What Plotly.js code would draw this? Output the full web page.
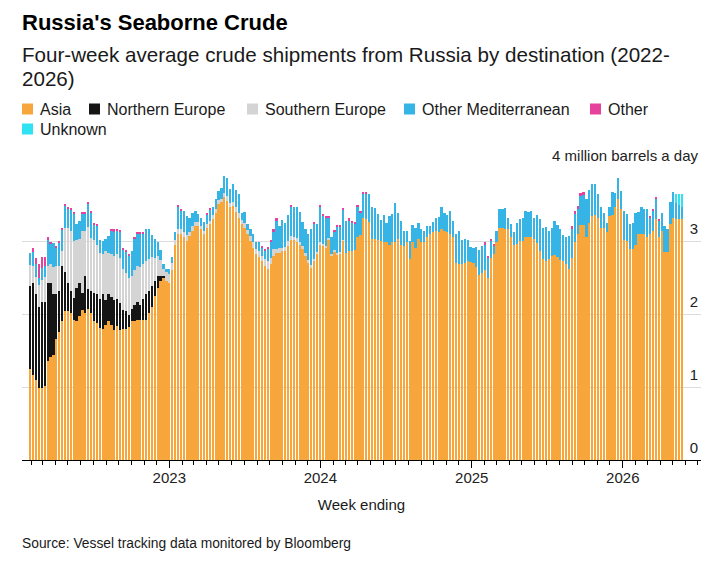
<!DOCTYPE html>
<html>
<head>
<meta charset="utf-8">
<script src="https://cdn.plot.ly/plotly-3.0.1.min.js"></script>
<style>
html,body{margin:0;padding:0;background:#fff;}
#chart{width:725px;height:562px;}
</style>
</head>
<body>
<div id="chart"></div>
<script>
// Week-ending dates: weekly from this first date, one per value
const firstWeekEnding = '2022-01-30';

// Million barrels a day, four-week average, by destination (one value per week)
const asia = [
1.24,1.16,1.09,0.99,0.98,1.01,1.35,1.41,1.44,1.66,
1.75,1.90,2.04,2.04,2.01,1.92,1.90,1.97,2.06,2.01,
2.07,2.01,1.90,1.88,1.81,1.80,1.85,1.90,1.85,1.78,
1.83,1.78,1.80,1.80,1.82,1.90,1.90,1.92,1.92,1.92,
1.92,2.01,2.10,2.24,2.36,2.45,2.50,2.45,2.43,2.60,
2.95,3.09,3.09,3.05,3.00,3.07,3.14,3.21,3.21,3.16,
3.09,3.18,3.23,3.30,3.39,3.51,3.53,3.60,3.55,3.46,
3.48,3.40,3.32,3.23,3.18,3.09,3.00,2.91,2.82,2.78,
2.72,2.66,2.62,2.68,2.80,2.84,2.84,2.86,2.86,2.93,
3.02,3.01,2.99,2.95,2.89,2.80,2.70,2.63,2.72,2.82,
2.95,2.94,2.91,3.02,2.80,2.85,2.82,2.83,3.00,2.83,
2.86,2.86,2.87,3.06,3.08,3.32,3.30,3.26,3.03,3.03,
3.02,3.00,2.98,2.98,2.95,2.98,2.98,3.03,2.95,2.93,
2.98,2.75,2.98,2.91,3.03,2.98,2.98,3.05,3.10,3.12,
3.14,3.13,3.16,3.14,3.12,3.09,3.05,2.70,2.69,2.68,
2.70,2.72,2.71,2.70,2.65,2.54,2.56,2.60,2.50,2.77,
2.82,2.98,3.18,3.18,3.17,3.16,3.05,2.95,2.96,3.00,
3.00,3.05,3.06,3.05,3.03,2.97,2.86,2.75,2.72,2.76,
2.80,2.81,2.78,2.74,2.72,2.68,2.62,2.77,2.99,3.09,
3.22,3.22,3.05,3.25,3.34,3.35,3.31,3.18,3.18,3.12,
3.34,3.35,3.46,3.58,3.44,3.02,3.00,2.89,2.89,2.95,
3.09,3.10,3.10,3.06,3.09,3.14,3.30,3.05,3.14,2.85,
2.85,3.23,3.31,3.30,3.30,3.30
];

const northernEurope = [
1.15,1.27,1.18,1.11,1.19,1.15,1.08,1.01,0.83,0.62,
0.56,0.76,0.53,0.39,0.30,0.30,0.46,0.46,0.23,0.51,
0.27,0.30,0.39,0.39,0.40,0.48,0.34,0.38,0.38,0.41,
0.37,0.37,0.26,0.24,0.17,0.17,0.22,0.24,0.20,0.28,
0.35,0.30,0.28,0.21,0.16,0.07,0.02,0,0,0,
0,0,0,0,0,0,0,0,0,0, 0,0,0,0,0,0,0,0,0,0,
0,0,0,0,0,0,0,0,0,0, 0,0,0,0,0,0,0,0,0,0,
0,0,0,0,0,0,0,0,0,0, 0,0,0,0,0,0,0,0,0,0,
0,0,0,0,0,0,0,0,0,0, 0,0,0,0,0,0,0,0,0,0,
0,0,0,0,0,0,0,0,0,0, 0,0,0,0,0,0,0,0,0,0,
0,0,0,0,0,0,0,0,0,0, 0,0,0,0,0,0,0,0,0,0,
0,0,0,0,0,0,0,0,0,0, 0,0,0,0,0,0,0,0,0,0,
0,0,0,0,0,0,0,0,0,0, 0,0,0,0,0,0,0,0,0,0,
0,0,0,0,0,0,0,0,0,0,
0,0,0,0,0,0
];

const southernEurope = [
0.28,0.23,0.24,0.30,0.30,0.35,0.23,0.26,0.38,0.38,
0.35,0.20,0.61,0.75,0.83,0.78,0.66,0.60,0.85,0.62,
0.85,0.73,0.73,0.67,0.63,0.54,0.67,0.56,0.59,0.60,
0.62,0.62,0.55,0.52,0.50,0.45,0.48,0.50,0.52,0.48,
0.45,0.45,0.40,0.32,0.27,0.22,0.10,0.12,0.12,0.10,
0.07,0.08,0.08,0.08,0.08,0.06,0.06,0.05,0.05,0.05,
0.05,0.05,0.05,0.05,0.05,0.05,0.05,0.06,0.06,0.06,
0.06,0.06,0.07,0.06,0.07,0.06,0.07,0.07,0.07,0.08,
0.08,0.10,0.10,0.09,0.09,0.05,0.06,0.05,0.06,0.07,
0.05,0.05,0.05,0.04,0.04,0.04,0.04,0.04,0.04,0.03,
0.03,0.02,0.02,0.02,0.02,0.02,0.02,0.02,0.02,0,
0,0,0,0,0,0,0,0,0,0, 0,0,0,0,0,0,0,0,0,0,
0,0,0,0,0,0,0,0,0,0, 0,0,0,0,0,0,0,0,0,0,
0,0,0,0,0,0,0,0,0,0, 0,0,0,0,0,0,0,0,0,0,
0,0,0,0,0,0,0,0,0,0, 0,0,0,0,0,0,0,0,0,0,
0,0,0,0,0,0,0,0,0,0, 0,0,0,0,0,0,0,0,0,0,
0,0,0,0,0,0,0,0,0,0,
0,0,0,0,0,0
];

const otherMediterranean = [
0.16,0.19,0.18,0.10,0.16,0.15,0.36,0.29,0.32,0.25,
0.32,0.30,0.30,0.26,0.29,0.37,0.21,0.25,0.24,0.23,
0.32,0.35,0.21,0.27,0.17,0.18,0.17,0.23,0.32,0.34,
0.32,0.35,0.26,0.29,0.30,0.34,0.43,0.44,0.46,0.42,
0.44,0.40,0.30,0.26,0.19,0.14,0.06,0.05,0.06,0.08,
0.10,0.30,0.25,0.28,0.26,0.18,0.18,0.15,0.11,0.11,
0.12,0.13,0.14,0.12,0.13,0.13,0.14,0.23,0.25,0.19,
0.24,0.24,0.25,0.10,0.15,0.08,0.09,0.11,0.09,0.12,
0.11,0.11,0.17,0.21,0.24,0.39,0.30,0.38,0.33,0.35,
0.39,0.41,0.43,0.41,0.33,0.33,0.35,0.50,0.47,0.38,
0.48,0.38,0.38,0.27,0.23,0.25,0.35,0.34,0.40,0.44,
0.42,0.39,0.36,0.40,0.30,0.32,0.34,0.38,0.44,0.42,
0.35,0.29,0.38,0.27,0.39,0.39,0.54,0.36,0.33,0.21,
0.16,0.25,0.24,0.27,0.21,0.18,0.16,0.16,0.10,0.14,
0.18,0.20,0.30,0.25,0.23,0.32,0.23,0.39,0.45,0.34,
0.33,0.30,0.21,0.21,0.27,0.34,0.37,0.35,0.27,0.23,
0.11,0.16,0.26,0.26,0.28,0.15,0.18,0.17,0.29,0.30,
0.32,0.36,0.34,0.36,0.28,0.38,0.44,0.43,0.47,0.38,
0.38,0.47,0.44,0.43,0.36,0.37,0.45,0.40,0.38,0.35,
0.40,0.41,0.52,0.45,0.44,0.43,0.33,0.29,0.21,0.13,
0.12,0.32,0.20,0.28,0.25,0.39,0.37,0.34,0.36,0.43,
0.31,0.36,0.34,0.38,0.22,0.27,0.27,0.22,0.25,0.36,
0.32,0.30,0.36,0.22,0.19,0.17
];

const other = [
0,0.05,0.08,0.18,0.15,0.12,0.04,0.02,0,0.02,
0.02,0.02,0.02,0.02,0.02,0.02,0,0,0.02,0.02,
0.02,0.02,0.02,0.02,0,0,0,0,0.03,0.03,
0.03,0.03,0.03,0.03,0.03,0,0.02,0.02,0.02,0.02,
0,0,0,0,0,0,0,0,0,0,
0,0.02,0.02,0,0,0,0,0,0,0,
0,0.03,0.03,0,0,0,0,0,0,0,
0,0,0,0,0,0,0,0,0,0,
0.02,0.02,0.03,0.03,0.03,0.03,0,0,0,0,
0.03,0,0,0,0,0,0,0,0.03,0,
0.03,0.03,0.03,0.03,0,0.03,0.03,0.03,0.03,0,
0.03,0.03,0.03,0.03,0.03,0.03,0.03,0,0,0,
0,0,0,0,0,0,0,0,0,0,
0,0,0,0,0,0,0,0,0,0,
0,0,0,0,0,0,0,0,0,0,
0,0,0,0,0,0,0,0.03,0.03,0.03,
0.03,0,0,0,0,0,0,0,0,0,
0,0,0,0,0,0,0,0,0,0,
0,0,0,0,0,0,0,0.03,0.04,0.04,
0.04,0.04,0,0,0,0,0,0,0,0,
0,0,0,0,0,0,0,0,0,0,
0,0,0,0,0.03,0.03,0.03,0.03,0,0,
0,0,0,0,0,0
];

const unknown = [
0,0,0,0,0,0,0,0,0,0, 0,0,0,0,0,0,0,0,0,0,
0,0,0,0,0,0,0,0,0,0, 0,0,0,0,0,0,0,0,0,0,
0,0,0,0,0,0,0,0,0,0, 0,0,0,0,0,0,0,0,0,0,
0,0,0,0,0,0,0,0,0,0, 0,0,0,0,0,0,0,0,0,0,
0,0,0,0,0,0,0,0,0,0, 0,0,0,0,0,0,0,0,0,0,
0,0,0,0,0,0,0,0,0,0, 0,0,0,0,0,0,0,0,0,0,
0,0,0,0,0,0,0,0,0,0, 0,0,0,0,0,0,0,0,0,0,
0,0,0,0,0,0,0,0,0,0, 0,0,0,0,0,0,0,0,0,0,
0,0,0,0,0,0,0,0,0,0, 0,0,0,0,0,0,0,0,0,0,
0,0,0,0,0,0,0,0,0,0, 0,0,0,0,0,0,0,0,0,0,
0,0,0,0,0,0,0,0,0,0, 0,0,0,0,0,0,0,0,0,0,
0,0,0,0.12,0.15,0.18
];

const seriesNames = ['Asia', 'Northern Europe', 'Southern Europe', 'Other Mediterranean', 'Other', 'Unknown'];
const seriesValues = [asia, northernEurope, southernEurope, otherMediterranean, other, unknown];
const seriesColors = ['#f7a63c', '#151515', '#d4d4d4', '#36b4e5', '#e6419d', '#2fe3f3'];

const yearTickDates = ['2023-01-01', '2024-01-01', '2025-01-01', '2026-01-01'];
const yearTickLabels = ['2023', '2024', '2025', '2026'];
const valueTicks = [0, 1, 2, 3, 4];
const valueTickLabels = ['0', '1', '2', '3', '4 million barrels a day'];

const startMs = Date.parse(firstWeekEnding + 'T00:00:00Z');
const weekEnding = asia.map((_, i) => new Date(startMs + i * 7 * 86400000).toISOString().slice(0, 10));

const traces = seriesNames.map((name, k) => ({
  type: 'bar',
  name: name,
  x: weekEnding,
  y: seriesValues[k],
  marker: {color: seriesColors[k], line: {width: 0}},
  hovertemplate: '%{x}<br>' + name + ': %{y:.2f}<extra></extra>'
}));

// pixel helpers for placing texts around the plot area
const plotLeft = 22, plotRight = 701, plotTop = 168, plotBottom = 460;
const plotW = plotRight - plotLeft, plotH = plotBottom - plotTop;
const px = p => (p - plotLeft) / plotW;
const py = p => (plotBottom - p) / plotH;
const TXT_SHIFT = -2;

// custom legend (two rows like the original)
const legendSquareX = [22, 89, 247, 404, 590, 22];
const legendRowY = [109, 109, 109, 109, 109, 129];
const SQ = 11;
const legendShapes = seriesNames.map((name, k) => ({
  type: 'rect', xref: 'paper', yref: 'paper',
  x0: px(legendSquareX[k]), x1: px(legendSquareX[k] + SQ),
  y0: py(legendRowY[k] + SQ / 2), y1: py(legendRowY[k] - SQ / 2),
  fillcolor: seriesColors[k], line: {width: 0}
}));
const legendTexts = seriesNames.map((name, k) => ({
  text: name, xref: 'paper', yref: 'paper',
  x: px(legendSquareX[k] + SQ + 7), y: py(legendRowY[k]),
  xanchor: 'left', yanchor: 'middle', xshift: TXT_SHIFT,
  showarrow: false, font: {size: 16, color: '#1a1a1a'}
}));

const layout = {
  width: 725, height: 562,
  margin: {l: plotLeft, r: 725 - plotRight, t: plotTop, b: 562 - plotBottom, pad: 0},
  paper_bgcolor: '#ffffff', plot_bgcolor: '#ffffff',
  font: {family: '"Liberation Sans", Arial, sans-serif', color: '#1a1a1a'},
  barmode: 'stack',
  bargap: 0.22,
  title: {
    text: "<b>Russia's Seaborne Crude</b>",
    xref: 'container', yref: 'container',
    x: 22 / 725, xanchor: 'left',
    y: 1 - 22 / 562, yanchor: 'middle',
    font: {size: 22, color: '#000000'}
  },
  showlegend: false,
  xaxis: {
    type: 'date',
    range: ['2022-01-10', '2026-07-09'],
    showgrid: false, zeroline: false,
    showline: true, linecolor: '#000000', linewidth: 1,
    ticks: 'outside', ticklen: 7, tickwidth: 1, tickcolor: '#000000',
    tickmode: 'array', tickvals: yearTickDates, ticktext: yearTickLabels,
    ticklabelstandoff: -3,
    tickfont: {size: 15, color: '#222222'},
    minor: {ticks: 'outside', ticklen: 4, tickwidth: 1, tickcolor: '#000000', tick0: '2022-01-01', dtick: 'M1', showgrid: false},
    title: {text: 'Week ending', font: {size: 15, color: '#1a1a1a'}, standoff: 14},
    fixedrange: true
  },
  yaxis: {
    range: [0, 4],
    side: 'right',
    tickmode: 'array', tickvals: valueTicks, ticktext: valueTickLabels,
    ticklabelposition: 'inside',
    ticklabelshift: -12,
    ticklabelstandoff: 0,
    ticklabeloverflow: 'allow',
    ticks: '',
    showgrid: true, gridcolor: '#dcdcdc', gridwidth: 1,
    zeroline: false, showline: false,
    tickfont: {size: 15, color: '#222222'},
    fixedrange: true
  },
  shapes: legendShapes,
  annotations: [
    {
      text: 'Four-week average crude shipments from Russia by destination (2022-',
      xref: 'paper', yref: 'paper', x: 0, y: py(54), xanchor: 'left', yanchor: 'middle',
      xshift: TXT_SHIFT, align: 'left', showarrow: false,
      font: {size: 20.6, color: '#1a1a1a'}
    },
    {
      text: '2026)',
      xref: 'paper', yref: 'paper', x: 0, y: py(78), xanchor: 'left', yanchor: 'middle',
      xshift: TXT_SHIFT, align: 'left', showarrow: false,
      font: {size: 20.6, color: '#1a1a1a'}
    },
    {
      text: 'Source: Vessel tracking data monitored by Bloomberg',
      xref: 'paper', yref: 'paper', x: 0, y: py(543), xanchor: 'left', yanchor: 'middle',
      xshift: TXT_SHIFT, align: 'left', showarrow: false,
      font: {size: 13.8, color: '#1a1a1a'}
    }
  ].concat(legendTexts)
};

Plotly.newPlot('chart', traces, layout, {displayModeBar: false, responsive: false});
</script>
</body>
</html>
